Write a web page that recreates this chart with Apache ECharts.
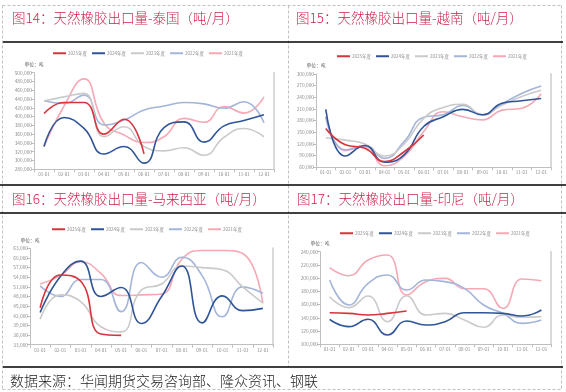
<!DOCTYPE html>
<html><head><meta charset="utf-8">
<script src="https://cdn.jsdelivr.net/npm/echarts@6/dist/echarts.min.js"></script>
<style>html,body{margin:0;padding:0;background:#fff}#c{width:566px;height:392px}</style>
</head><body><div id="c"></div>
<script>
const months = ['01-01','02-01','03-01','04-01','05-01','06-01','07-01','08-01','09-01','10-01','11-01','12-01'];
const seriesNames = ['2025年度','2024年度','2023年度','2022年度','2021年度'];
const colors = ['#d8343d','#2f5597','#cacaca','#a3b5d9','#f6a9b5'];

// Thailand
const th2025 = [407000, 432000, 432000, 360000, 394000, 315000];
const th2024 = [332000, 398000, 373000, 315000, 332000, 294000, 375000, 388000, 342000, 379000, 391000, 404000];
const th2023 = [436000, 445000, 453000, 354000, 377000, 332000, 322000, 329000, 312000, 353000, 373000, 354000];
const th2022 = [436000, 430000, 449000, 381000, 392000, 415000, 424000, 432000, 429000, 419000, 434000, 386000];
const th2021 = [332000, 424000, 486000, 385000, 358000, 341000, 354000, 396000, 387000, 423000, 408000, 445000];
// Vietnam
const vn2025 = [160000, 118000, 109000, 75000, 100000, 143000];
const vn2024 = [209000, 89000, 116000, 73000, 92000, 165000, 190000, 209000, 195000, 225000, 231000, 237000];
const vn2023 = [136000, 130000, 120000, 89000, 120000, 186000, 214000, 222000, 195000, 220000, 242000, 258000];
const vn2022 = [190000, 105000, 116000, 83000, 126000, 189000, 195000, 219000, 195000, 223000, 250000, 269000];
const vn2021 = [190000, 103000, 113000, 64000, 88000, 152000, 203000, 190000, 182000, 207000, 212000, 249000];
// Malaysia
const my2025 = [44500, 54700, 52800, 36300, 35900];
const my2024 = [43000, 54200, 59000, 48000, 50800, 39600, 48000, 57500, 39800, 48200, 43600, 44300];
const my2023 = [40900, 48500, 46400, 38600, 37000, 50000, 51900, 57500, 57000, 56300, 51000, 45900];
const my2022 = [51300, 48000, 53300, 53300, 43300, 58600, 54000, 60200, 54500, 41700, 51000, 49000];
const my2021 = [51900, 54500, 58800, 55200, 48300, 48500, 48800, 59600, 62300, 62300, 61400, 45900];
// Indonesia
const id2025 = [147800, 146800, 144300, 146800, 150400];
const id2024 = [137800, 126700, 137800, 114000, 135300, 129200, 134200, 147800, 147800, 146800, 142800, 151900];
const id2023 = [172000, 155400, 173000, 134200, 173500, 144300, 146800, 136800, 125700, 144300, 140800, 141800];
const id2022 = [197200, 159400, 192200, 204700, 182000, 197200, 194700, 184600, 159400, 146800, 131700, 136800];
const id2021 = [215800, 203700, 227400, 235000, 174500, 194700, 199700, 184000, 184000, 154400, 198700, 196200];

const titles = ['图14：天然橡胶出口量-泰国（吨/月）','图15：天然橡胶出口量-越南（吨/月）','图16：天然橡胶出口量-马来西亚（吨/月）','图17：天然橡胶出口量-印尼（吨/月）'];
const sourceText = '数据来源：华闻期货交易咨询部、隆众资讯、钢联';
const unitText = '单位：吨';

const FONT = '"Noto Sans CJK SC","Noto Sans",sans-serif';
const panels = [
  {data:[th2025,th2024,th2023,th2022,th2021], min:280000, max:500000, interval:20000,
   grid:{left:34, right:292, top:72.7, bottom:222.7}, legend:{left:53, top:51}},
  {data:[vn2025,vn2024,vn2023,vn2022,vn2021], min:60000, max:300000, interval:30000,
   grid:{left:316, right:15, top:74, bottom:224.7}, legend:{left:337, top:54}},
  {data:[my2025,my2024,my2023,my2022,my2021], min:33000, max:63000, interval:3000,
   grid:{left:30, right:293, top:248.3, bottom:47.3}, legend:{left:52, top:227}},
  {data:[id2025,id2024,id2023,id2022,id2021], min:100000, max:240000, interval:20000,
   grid:{left:320, right:15, top:251.7, bottom:47.7}, legend:{left:340, top:231}}
];

const grid = [], xAxis = [], yAxis = [], series = [], legend = [];
panels.forEach((p, i) => {
  grid.push(Object.assign({containLabel:false}, p.grid));
  legend.push({left:p.legend.left, top:p.legend.top, data:seriesNames, icon:'rect',
    itemWidth:13, itemHeight:2, itemGap:5, padding:0,
    textStyle:{fontSize:4.5, color:'#8c8c8c', fontFamily:FONT, padding:[0,0,0,-3]}});
  xAxis.push({type:'category', gridIndex:i, data:months, boundaryGap:true,
    axisLine:{lineStyle:{color:'#bfbfbf'}}, axisTick:{show:true, length:3, lineStyle:{color:'#bfbfbf'}},
    axisLabel:{fontSize:4.5, color:'#8c8c8c', margin:3, fontFamily:FONT, interval:0}});
  yAxis.push({type:'value', gridIndex:i, min:p.min, max:p.max, interval:p.interval,
    name:unitText, nameLocation:'end', nameGap:6,
    nameTextStyle:{fontSize:4.8, color:'#595959', fontFamily:FONT, align:'center'},
    axisLine:{show:true, lineStyle:{color:'#bfbfbf'}}, axisTick:{show:true, length:3, lineStyle:{color:'#bfbfbf'}},
    splitLine:{show:false},
    axisLabel:{fontSize:4.8, color:'#8c8c8c', margin:2, fontFamily:FONT,
      formatter:v => v.toLocaleString('en-US')}});
  yAxis.push({type:'value', gridIndex:i, position:'right', min:p.min, max:p.max, interval:p.interval,
    axisLine:{show:true, lineStyle:{color:'#d9d9d9', width:2}}, axisTick:{show:false},
    axisLabel:{show:false}, splitLine:{show:false}});
  p.data.forEach((d, k) => {
    series.push({type:'line', name:seriesNames[k], xAxisIndex:i, yAxisIndex:i*2, data:d,
      smooth:0.5, symbol:'none', lineStyle:{color:colors[k], width:1.6}, itemStyle:{color:colors[k]},
      z: 10 - k});
  });
});

const dash = {stroke:'#c0c0c0', lineWidth:1, lineDash:[3,2]};
const black = {stroke:'#000', lineWidth:1.5};
const graphic = [
  {type:'line', shape:{x1:2.5,y1:5.5,x2:561.5,y2:5.5}, style:dash, silent:true},
  {type:'line', shape:{x1:2.5,y1:5.5,x2:2.5,y2:389.5}, style:dash, silent:true},
  {type:'line', shape:{x1:561.5,y1:5.5,x2:561.5,y2:389.5}, style:dash, silent:true},
  {type:'line', shape:{x1:2.5,y1:389.5,x2:561.5,y2:389.5}, style:dash, silent:true},
  {type:'line', shape:{x1:288.5,y1:5.5,x2:288.5,y2:367}, style:dash, silent:true},
  {type:'line', shape:{x1:3,y1:42,x2:563,y2:42}, style:black, silent:true},
  {type:'line', shape:{x1:0,y1:185,x2:566,y2:185}, style:black, silent:true},
  {type:'line', shape:{x1:0,y1:213,x2:566,y2:213}, style:black, silent:true},
  {type:'line', shape:{x1:3,y1:367,x2:563,y2:367}, style:black, silent:true}
];
const titlePos = [[12,18],[296,18],[12,199],[297,199]];
titles.forEach((t, i) => {
  graphic.push({type:'text', x:titlePos[i][0], y:titlePos[i][1], silent:true,
    style:{text:t, fill:'#cc1f4a', fontSize:13.5, fontWeight:300, fontFamily:FONT, verticalAlign:'middle', align:'left'}});
});
graphic.push({type:'text', x:10, y:381, silent:true,
  style:{text:sourceText, fill:'#1a1a1a', fontSize:14, fontWeight:300, fontFamily:FONT, verticalAlign:'middle', align:'left'}});

const chart = echarts.init(document.getElementById('c'), null, {renderer:'canvas'});
chart.setOption({backgroundColor:'#fff', animation:false, grid, xAxis, yAxis, legend, series, graphic});
</script></body></html>
